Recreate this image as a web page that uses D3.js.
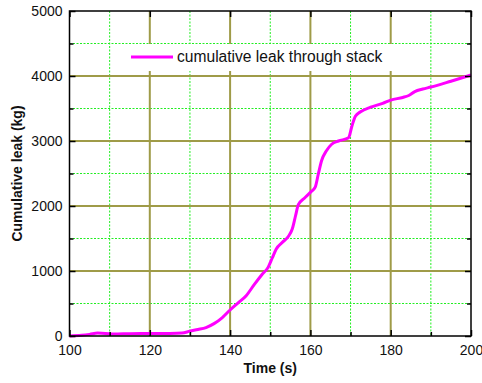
<!DOCTYPE html>
<html lang="en">
  <head>
    <meta charset="utf-8">
    <title>Cumulative leak</title>
    <style>
      body { margin: 0; background: #fff; }
      text { font-family: "Liberation Sans", Arial, sans-serif; }
    </style>
  </head>
  <body>
    <div id="chart"></div>
    <script src="https://cdn.jsdelivr.net/npm/d3@7"></script>
    <script type="text/javascript">
    (function(d3) {
      'use strict';

      var time = [100, 103, 105, 107, 109, 111, 115, 120, 125, 128, 130, 132, 134, 136, 138,
        140, 142, 144, 146, 148, 149.5, 150.5, 151.5, 153, 154.5, 155.5, 156.3, 157, 158.5,
        160, 161.2, 162, 162.8, 164, 165.3, 167, 169.5, 170.3, 171.2, 172.5, 175, 178,
        180, 183, 184.5, 186, 188, 190, 195, 200];
      var leak = [0, 10, 25, 45, 40, 30, 35, 38, 40, 45, 75, 100, 130, 190, 280,
        400, 510, 620, 790, 950, 1060, 1200, 1340, 1440, 1530, 1650, 1850, 2020, 2120,
        2210, 2290, 2500, 2700, 2850, 2950, 3000, 3050, 3220, 3380, 3450, 3520, 3580,
        3630, 3670, 3700, 3760, 3800, 3830, 3920, 4015];

      var xMajor = [100, 120, 140, 160, 180, 200];
      var xMinor = [110, 130, 150, 170, 190];
      var yMajor = [0, 1000, 2000, 3000, 4000, 5000];
      var yMinor = [500, 1500, 2500, 3500, 4500];
      var seriesName = 'cumulative leak through stack';

      var width = 482, height = 383;
      var left = 69.5, right = 471, top = 11, bottom = 336;

      var x = d3.scaleLinear().domain([100, 200]).range([left, right]);
      var y = d3.scaleLinear().domain([0, 5000]).range([bottom, top]);

      var svg = d3.select('#chart').append('svg')
        .attr('width', width)
        .attr('height', height);

      svg.append('rect').attr('width', width).attr('height', height).attr('fill', '#fff');

      // minor grid, green dotted
      var grid = svg.append('g');
      grid.selectAll('.vmin').data(xMinor).enter().append('line')
        .attr('x1', function(d) { return x(d); }).attr('x2', function(d) { return x(d); })
        .attr('y1', top).attr('y2', bottom)
        .attr('stroke', '#22ee22').attr('stroke-width', 1).attr('stroke-dasharray', '2,1.5');
      grid.selectAll('.hmin').data(yMinor).enter().append('line')
        .attr('y1', function(d) { return y(d); }).attr('y2', function(d) { return y(d); })
        .attr('x1', left).attr('x2', right)
        .attr('stroke', '#22ee22').attr('stroke-width', 1).attr('stroke-dasharray', '2,1.5');

      // major grid, olive
      grid.selectAll('.vmaj').data(xMajor.slice(1, -1)).enter().append('line')
        .attr('x1', function(d) { return x(d); }).attr('x2', function(d) { return x(d); })
        .attr('y1', top).attr('y2', bottom)
        .attr('stroke', '#9f9b48').attr('stroke-width', 2);
      grid.selectAll('.hmaj').data(yMajor.slice(1, -1)).enter().append('line')
        .attr('y1', function(d) { return y(d); }).attr('y2', function(d) { return y(d); })
        .attr('x1', left).attr('x2', right)
        .attr('stroke', '#9f9b48').attr('stroke-width', 2);

      // legend box (covers the grid)
      var legend = svg.append('g');
      legend.append('rect')
        .attr('x', 118).attr('y', 44).attr('width', 278).attr('height', 27)
        .attr('fill', '#fff');
      legend.append('line')
        .attr('x1', 131).attr('x2', 173).attr('y1', 57).attr('y2', 57)
        .attr('stroke', '#ff00ff').attr('stroke-width', 3);
      legend.append('text')
        .attr('x', 177).attr('y', 62)
        .attr('font-size', '15.6px')
        .attr('fill', '#111')
        .text(seriesName);

      // data line
      var line = d3.line()
        .x(function(d, i) { return x(time[i]); })
        .y(function(d) { return y(d); })
        .curve(d3.curveMonotoneX);

      svg.append('path')
        .datum(leak)
        .attr('d', line)
        .attr('fill', 'none')
        .attr('stroke', '#ff00ff')
        .attr('stroke-width', 3)
        .attr('stroke-linejoin', 'round');

      // axes with inward ticks
      function styleAxis(g) {
        g.select('.domain').remove();
        g.selectAll('line').attr('stroke', '#000').attr('stroke-width', 1.5);
        g.selectAll('text').attr('font-size', '14px').attr('fill', '#111')
          .attr('font-family', '"Liberation Sans", Arial, sans-serif');
      }

      svg.append('g').attr('transform', 'translate(0,' + bottom + ')')
        .call(d3.axisBottom(x).tickValues(xMajor).tickSize(-6).tickPadding(9)
          .tickFormat(d3.format('d')))
        .call(styleAxis);
      svg.append('g').attr('transform', 'translate(0,' + bottom + ')')
        .call(d3.axisBottom(x).tickValues(xMinor).tickSize(-4).tickFormat(''))
        .call(styleAxis);
      svg.append('g').attr('transform', 'translate(0,' + top + ')')
        .call(d3.axisTop(x).tickValues(xMajor).tickSize(-6).tickFormat(''))
        .call(styleAxis);

      svg.append('g').attr('transform', 'translate(' + left + ',0)')
        .call(d3.axisLeft(y).tickValues(yMajor).tickSize(-6).tickPadding(7)
          .tickFormat(d3.format('d')))
        .call(styleAxis);
      svg.append('g').attr('transform', 'translate(' + left + ',0)')
        .call(d3.axisLeft(y).tickValues(yMinor).tickSize(-4).tickFormat(''))
        .call(styleAxis);
      svg.append('g').attr('transform', 'translate(' + right + ',0)')
        .call(d3.axisRight(y).tickValues(yMajor).tickSize(-6).tickFormat(''))
        .call(styleAxis);
      svg.append('g').attr('transform', 'translate(' + right + ',0)')
        .call(d3.axisRight(y).tickValues(yMinor).tickSize(-4).tickFormat(''))
        .call(styleAxis);

      // frame
      svg.append('rect')
        .attr('x', left).attr('y', top)
        .attr('width', right - left).attr('height', bottom - top)
        .attr('fill', 'none').attr('stroke', '#000').attr('stroke-width', 1.5);

      // axis titles
      svg.append('text')
        .attr('x', (left + right) / 2).attr('y', 373)
        .attr('text-anchor', 'middle')
        .attr('font-size', '14px').attr('font-weight', 'bold').attr('fill', '#111')
        .text('Time (s)');
      svg.append('text')
        .attr('transform', 'translate(22,' + ((top + bottom) / 2) + ') rotate(-90)')
        .attr('text-anchor', 'middle')
        .attr('font-size', '14px').attr('font-weight', 'bold').attr('fill', '#111')
        .text('Cumulative leak (kg)');

    })(window.d3);
    </script>
  </body>
</html>
